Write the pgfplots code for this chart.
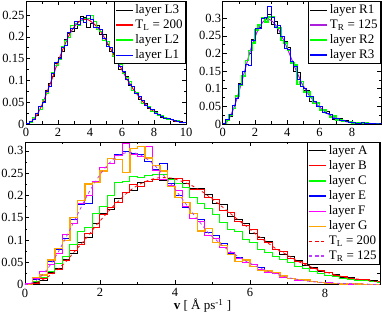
\documentclass[12pt,border=0pt]{standalone}
\usepackage{fontspec}
\setmainfont{Liberation Serif}
\usepackage{pgfplots}
\usepackage{pgfplotstable}
\pgfplotsset{compat=1.18}
\definecolor{mygreen}{RGB}{0,255,0}
\definecolor{myorange}{RGB}{255,165,0}
\definecolor{mypurple}{RGB}{170,30,220}
\definecolor{mymagenta}{RGB}{255,0,255}
\definecolor{myviolet}{RGB}{190,60,255}

\pgfplotstableread{
x L3 L2 L1 A B C
0.0 0.000 0.001 0.000 0.001 0.000 0.001
0.2 0.005 0.003 0.006 0.004 0.003 0.006
0.4 0.014 0.015 0.011 0.010 0.013 0.016
0.6 0.020 0.024 0.025 0.026 0.024 0.030
0.8 0.039 0.034 0.040 0.037 0.033 0.048
1.0 0.051 0.056 0.049 0.057 0.055 0.062
1.2 0.076 0.069 0.074 0.070 0.077 0.090
1.4 0.093 0.086 0.085 0.094 0.089 0.118
1.6 0.108 0.117 0.116 0.106 0.115 0.128
1.8 0.138 0.135 0.141 0.137 0.128 0.160
2.0 0.153 0.148 0.150 0.159 0.158 0.175
2.2 0.167 0.178 0.175 0.168 0.173 0.200
2.4 0.194 0.191 0.181 0.193 0.184 0.228
2.6 0.207 0.198 0.210 0.206 0.207 0.231
2.8 0.212 0.226 0.219 0.211 0.224 0.242
3.0 0.219 0.231 0.236 0.230 0.221 0.240
3.2 0.236 0.227 0.229 0.232 0.232 0.244
3.4 0.246 0.237 0.242 0.235 0.235 0.247
3.6 0.244 0.242 0.232 0.234 0.236 0.248
3.8 0.222 0.242 0.250 0.237 0.236 0.236
4.0 0.231 0.250 0.239 0.238 0.238 0.226
4.2 0.234 0.236 0.222 0.226 0.234 0.218
4.4 0.225 0.216 0.222 0.215 0.213 0.196
4.6 0.206 0.212 0.217 0.216 0.213 0.183
4.8 0.206 0.191 0.195 0.201 0.196 0.170
5.0 0.183 0.190 0.177 0.181 0.191 0.158
5.2 0.166 0.176 0.176 0.179 0.167 0.140
5.4 0.161 0.155 0.164 0.152 0.162 0.124
5.6 0.151 0.138 0.139 0.146 0.141 0.120
5.8 0.126 0.137 0.133 0.136 0.133 0.101
6.0 0.118 0.115 0.121 0.114 0.123 0.094
6.2 0.108 0.107 0.101 0.106 0.100 0.078
6.4 0.089 0.097 0.090 0.096 0.095 0.072
6.6 0.086 0.076 0.085 0.078 0.078 0.063
6.8 0.069 0.072 0.070 0.068 0.075 0.057
7.0 0.057 0.063 0.064 0.062 0.059 0.050
7.2 0.053 0.048 0.053 0.054 0.052 0.040
7.4 0.047 0.043 0.042 0.043 0.047 0.036
7.6 0.036 0.040 0.038 0.039 0.035 0.030
7.8 0.029 0.029 0.033 0.030 0.032 0.025
8.0 0.028 0.027 0.025 0.026 0.028 0.021
8.2 0.022 0.020 0.021 0.022 0.020 0.018
8.4 0.015 0.019 0.018 0.016 0.018 0.014
8.6 0.015 0.014 0.013 0.015 0.014 0.012
8.8 0.012 0.011 0.013 0.012 0.011 0.010
9.0 0.011 0.011 0.010 0.010 0.011 0.008
9.2 0.006 0.007 0.008 0.008 0.007 0.006
9.4 0.006 0.007 0.006 0.006 0.006 0.005
9.6 0.005 0.004 0.004 0.004 0.005 0.004
9.8 0.003 0.003 0.003 0.003 0.003 0.003
10.0 0.003 0.003 0.003 0.003 0.003 0.003
}\histL

\pgfplotstableread{
x R1 R2 R3 E F G
0.0 0.002 0.001 0.001 0.001 0.002 0.000
0.2 0.009 0.010 0.012 0.012 0.014 0.016
0.4 0.022 0.026 0.027 0.023 0.030 0.021
0.6 0.053 0.044 0.052 0.052 0.046 0.055
0.8 0.077 0.080 0.073 0.079 0.070 0.081
1.0 0.115 0.109 0.113 0.104 0.112 0.099
1.2 0.137 0.136 0.148 0.146 0.136 0.150
1.4 0.179 0.180 0.170 0.180 0.182 0.188
1.6 0.199 0.209 0.165 0.183 0.200 0.226
1.8 0.240 0.229 0.237 0.228 0.231 0.229
2.0 0.269 0.266 0.270 0.262 0.262 0.255
2.2 0.273 0.281 0.272 0.283 0.272 0.283
2.4 0.298 0.300 0.300 0.292 0.290 0.280
2.6 0.299 0.290 0.303 0.298 0.316 0.252
2.8 0.310 0.303 0.332 0.295 0.292 0.306
3.0 0.281 0.304 0.302 0.293 0.288 0.310
3.2 0.291 0.276 0.273 0.276 0.310 0.284
3.4 0.258 0.273 0.278 0.259 0.256 0.268
3.6 0.236 0.237 0.249 0.272 0.236 0.255
3.8 0.233 0.229 0.215 0.226 0.222 0.220
4.0 0.217 0.209 0.211 0.200 0.210 0.195
4.2 0.177 0.173 0.177 0.174 0.175 0.184
4.4 0.150 0.167 0.163 0.160 0.148 0.160
4.6 0.145 0.112 0.127 0.145 0.142 0.120
4.8 0.120 0.120 0.105 0.116 0.110 0.125
5.0 0.094 0.091 0.102 0.109 0.104 0.094
5.2 0.096 0.091 0.079 0.092 0.083 0.087
5.4 0.064 0.075 0.077 0.070 0.071 0.068
5.6 0.065 0.058 0.065 0.061 0.058 0.052
5.8 0.060 0.059 0.050 0.056 0.049 0.055
6.0 0.040 0.039 0.049 0.041 0.045 0.040
6.2 0.039 0.039 0.033 0.038 0.034 0.032
6.4 0.035 0.030 0.031 0.030 0.027 0.030
6.6 0.020 0.020 0.026 0.026 0.024 0.027
6.8 0.014 0.022 0.017 0.020 0.016 0.019
7.0 0.016 0.012 0.016 0.013 0.014 0.014
7.2 0.016 0.013 0.009 0.012 0.010 0.011
7.4 0.007 0.007 0.009 0.009 0.008 0.010
7.6 0.009 0.007 0.007 0.006 0.007 0.006
7.8 0.004 0.006 0.005 0.005 0.004 0.004
8.0 0.004 0.003 0.005 0.004 0.004 0.003
8.2 0.005 0.004 0.002 0.003 0.002 0.002
8.4 0.001 0.002 0.002 0.002 0.002 0.001
8.6 0.004 0.002 0.003 0.002 0.001 0.002
8.8 0.001 0.002 0.001 0.001 0.001 0.001
9.0 0.001 0.001 0.001 0.001 0.000 0.000
9.2 0.002 0.000 0.001 0.000 0.000 0.000
9.4 0.000 0.000 0.000 0.000 0.000 0.000
9.6 0.000 0.000 0.000 0.000 0.000 0.000
9.8 0.000 0.000 0.000 0.000 0.000 0.000
}\histR

\pgfplotstableread{
v TL TR
0.0 0.000 0.000
0.1 0.000 0.001
0.3 0.004 0.009
0.5 0.012 0.025
0.7 0.022 0.047
0.9 0.036 0.075
1.1 0.052 0.107
1.3 0.072 0.140
1.5 0.091 0.174
1.7 0.111 0.206
1.9 0.133 0.234
2.1 0.152 0.258
2.3 0.171 0.277
2.5 0.188 0.290
2.7 0.204 0.296
2.9 0.217 0.296
3.1 0.227 0.290
3.3 0.234 0.279
3.5 0.239 0.264
3.7 0.240 0.245
3.9 0.239 0.225
4.1 0.234 0.203
4.3 0.228 0.180
4.5 0.220 0.157
4.7 0.210 0.136
4.9 0.198 0.115
5.1 0.185 0.100
5.3 0.172 0.085
5.5 0.158 0.073
5.7 0.144 0.062
5.9 0.131 0.052
6.1 0.117 0.044
6.3 0.104 0.036
6.5 0.092 0.029
6.7 0.080 0.023
6.9 0.071 0.018
7.1 0.061 0.014
7.3 0.051 0.011
7.5 0.044 0.008
7.7 0.037 0.006
7.9 0.031 0.005
8.1 0.026 0.004
8.3 0.021 0.003
8.5 0.017 0.002
8.7 0.014 0.002
8.9 0.012 0.001
9.1 0.010 0.001
9.3 0.007 0.000
9.5 0.006 0.000
9.7 0.004 0.000
9.9 0.003 0.000
}\curves

\newcommand{\lf}{\fontsize{13}{15}\selectfont}
\newcommand{\tf}{\fontsize{12.5}{14}\selectfont}
\pgfplotsset{
  every axis/.append style={
    scale only axis, anchor=south west,
    axis line style={line width=0.6pt},
    tick style={line width=0.5pt, black},
    major tick length=4pt, minor tick length=2.5pt,
    minor tick num=1,
    /pgf/number format/assume math mode=true,
    ticklabel style={font=\tf},
    yticklabel style={/pgf/number format/fixed, /pgf/number format/precision=2, inner sep=1.5pt},
    scaled y ticks=false,
    ymin=0,
    legend cell align=left,
    legend image post style={line width=1.3pt},
    legend style={at={(1,1)}, anchor=north east, draw=black, line width=0.6pt,
      fill=white, font=\lf, inner sep=1pt, row sep=0.3pt,
      nodes={inner sep=2pt}},
  },
  hist/.style={const plot mark left, no marks, line width=1pt},
  curve/.style={no marks, line width=1pt, smooth},
}

\begin{document}
\begin{tikzpicture}
% top left
\begin{axis}[at={(26pt,188pt)}, width=160pt, height=122.5pt,
  xmin=0, xmax=10, ymax=0.281,
  xtick={0,2,4,6,8,10}, ytick={0,0.05,0.1,0.15,0.2,0.25}]
\addplot[hist, black] table[x=x, y=L3] {\histL};
\addlegendentry{layer L3}
\addplot[curve, red] table[x=v, y=TL] {\curves};
\addlegendentry{T\textsubscript{L} = 200}
\addplot[hist, mygreen] table[x=x, y=L2] {\histL};
\addlegendentry{layer L2}
\addplot[hist, blue] table[x=x, y=L1] {\histL};
\addlegendentry{layer L1}
\end{axis}
% top right
\begin{axis}[at={(222.7pt,188pt)}, width=158.3pt, height=122.5pt,
  xmin=0, xmax=9.8, ymax=0.3475,
  xtick={0,2,4,6,8}, ytick={0,0.05,0.1,0.15,0.2,0.25,0.3}]
\addplot[hist, black] table[x=x, y=R1] {\histR};
\addlegendentry{layer R1}
\addplot[curve, mypurple] table[x=v, y=TR] {\curves};
\addlegendentry{T\textsubscript{R} = 125}
\addplot[hist, mygreen, line width=1.6pt] table[x=x, y=R2] {\histR};
\addlegendentry{layer R2}
\addplot[hist, blue] table[x=x, y=R3] {\histR};
\addlegendentry{layer R3}
\end{axis}
% bottom
\begin{axis}[at={(25pt,27.5pt)}, width=355pt, height=142.5pt,
  xmin=0, xmax=9.47, ymax=0.32,
  xtick={0,2,4,6,8}, ytick={0,0.05,0.1,0.15,0.2,0.25,0.3},
  xlabel={\textbf{v} [ Å ps\textsuperscript{-1} ]},
  xlabel style={font=\lf, yshift=6.5pt}]
\addplot[hist, black] table[x=x, y=A] {\histL};
\addlegendentry{layer A}
\addplot[hist, red] table[x=x, y=B] {\histL};
\addlegendentry{layer B}
\addplot[hist, mygreen] table[x=x, y=C] {\histL};
\addlegendentry{layer C}
\addplot[hist, blue] table[x=x, y=E] {\histR};
\addlegendentry{layer E}
\addplot[hist, mymagenta] table[x=x, y=F] {\histR};
\addlegendentry{layer F}
\addplot[hist, myorange, line width=1.3pt] table[x=x, y=G] {\histR};
\addlegendentry{layer G}
\addplot[curve, red, dashed, line width=0.8pt] table[x=v, y=TL] {\curves};
\addlegendentry{T\textsubscript{L} = 200}
\addplot[curve, myviolet, dashed, line width=0.8pt] table[x=v, y=TR] {\curves};
\addlegendentry{T\textsubscript{R} = 125}
\end{axis}
\pgfresetboundingbox
\useasboundingbox (0,0) rectangle (382pt,312pt);
\end{tikzpicture}
\end{document}
